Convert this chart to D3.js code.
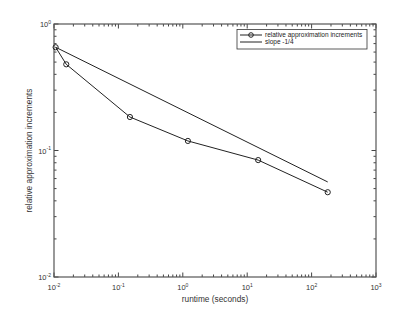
<!DOCTYPE html>
<html><head><meta charset="utf-8">
<script src="https://cdn.jsdelivr.net/npm/d3@7"></script>
<style>body{margin:0;background:#fff}svg{display:block}</style>
</head><body>
<svg id="c" width="415" height="312"></svg>
<script>
const runtime = [0.0106, 0.0155, 0.151, 1.2, 14.8, 178];
const increments = [0.655, 0.48, 0.184, 0.119, 0.084, 0.0468];
const slopeX = [0.0106, 178];
const slopeY = [0.655, 0.0564];
const xTickExps = [-2, -1, 0, 1, 2, 3];
const yTickExps = [-2, -1, 0];
const seriesNames = ["relative approximation increments", "slope -1/4"];

const svg = d3.select("#c");
const L = 54, R = 376, T = 24, B = 277;
const x = d3.scaleLog().domain([1e-2, 1e3]).range([L, R]);
const y = d3.scaleLog().domain([1e-2, 1]).range([B, T]);
const font = "Liberation Sans, Arial, sans-serif";
const axisCol = "#444";

function minors(dom) {
  const out = [];
  for (let e = Math.log10(dom[0]); e < Math.log10(dom[1]); e++)
    for (let k = 2; k <= 9; k++) out.push(k * Math.pow(10, e));
  return out;
}
const g = svg.append("g");
const xMaj = xTickExps.map(e => Math.pow(10, e));
const yMaj = yTickExps.map(e => Math.pow(10, e));
minors(x.domain()).forEach(v => {
  g.append("line").attr("x1", x(v)).attr("x2", x(v)).attr("y1", B).attr("y2", B - 2.5).attr("stroke", axisCol);
  g.append("line").attr("x1", x(v)).attr("x2", x(v)).attr("y1", T).attr("y2", T + 2.5).attr("stroke", axisCol);
});
xMaj.forEach(v => {
  g.append("line").attr("x1", x(v)).attr("x2", x(v)).attr("y1", B).attr("y2", B - 4.5).attr("stroke", axisCol);
  g.append("line").attr("x1", x(v)).attr("x2", x(v)).attr("y1", T).attr("y2", T + 4.5).attr("stroke", axisCol);
});
minors(y.domain()).forEach(v => {
  g.append("line").attr("y1", y(v)).attr("y2", y(v)).attr("x1", L).attr("x2", L + 2.5).attr("stroke", axisCol);
  g.append("line").attr("y1", y(v)).attr("y2", y(v)).attr("x1", R).attr("x2", R - 2.5).attr("stroke", axisCol);
});
yMaj.forEach(v => {
  g.append("line").attr("y1", y(v)).attr("y2", y(v)).attr("x1", L).attr("x2", L + 4.5).attr("stroke", axisCol);
  g.append("line").attr("y1", y(v)).attr("y2", y(v)).attr("x1", R).attr("x2", R - 4.5).attr("stroke", axisCol);
});
svg.append("rect").attr("x", L).attr("y", T).attr("width", R - L).attr("height", B - T)
  .attr("fill", "none").attr("stroke", "#555").attr("stroke-width", 1.2);

xTickExps.forEach(e => {
  const t = svg.append("text").attr("x", x(Math.pow(10, e))).attr("y", B + 13)
    .attr("text-anchor", "middle").attr("font-family", font).attr("font-size", 7.5).attr("fill", "#333");
  t.append("tspan").text("10");
  t.append("tspan").attr("dy", -3.5).attr("font-size", 5).text(String(e));
});
yTickExps.forEach(e => {
  const t = svg.append("text").attr("x", L - 3).attr("y", y(Math.pow(10, e)) + 3)
    .attr("text-anchor", "end").attr("font-family", font).attr("font-size", 7.5).attr("fill", "#333");
  t.append("tspan").text("10");
  t.append("tspan").attr("dy", -3.5).attr("font-size", 5).text(String(e));
});

svg.append("text").attr("x", (L + R) / 2).attr("y", 302).attr("text-anchor", "middle")
  .attr("font-family", font).attr("font-size", 8.3).attr("fill", "#333").text("runtime (seconds)");
svg.append("text").attr("transform", `translate(32,${(T + B) / 2}) rotate(-90)`).attr("text-anchor", "middle")
  .attr("font-family", font).attr("font-size", 8.3).attr("fill", "#333").text("relative approximation increments");

const line = d3.line().x(d => x(d[0])).y(d => y(d[1]));
svg.append("path").attr("d", line(slopeX.map((v, i) => [v, slopeY[i]])))
  .attr("fill", "none").attr("stroke", "#222").attr("stroke-width", 1);
const pts = runtime.map((v, i) => [v, increments[i]]);
svg.append("path").attr("d", line(pts)).attr("fill", "none").attr("stroke", "#222").attr("stroke-width", 1);
svg.selectAll("circle.m").data(pts).enter().append("circle").attr("class", "m")
  .attr("cx", d => x(d[0])).attr("cy", d => y(d[1])).attr("r", 2.6)
  .attr("fill", "none").attr("stroke", "#222").attr("stroke-width", 1);

const lg = svg.append("g");
lg.append("rect").attr("x", 237).attr("y", 29.5).attr("width", 130).attr("height", 19.5)
  .attr("fill", "#fff").attr("stroke", "#333").attr("stroke-width", 0.8);
seriesNames.forEach((n, i) => {
  const yy = 35 + i * 7;
  lg.append("line").attr("x1", 240).attr("x2", 262).attr("y1", yy).attr("y2", yy).attr("stroke", "#222");
  if (i === 0) lg.append("circle").attr("cx", 251).attr("cy", yy).attr("r", 2.3).attr("fill", "none").attr("stroke", "#222");
  lg.append("text").attr("x", 265).attr("y", yy + 2.3).attr("font-family", font).attr("font-size", 6.5)
    .attr("fill", "#222").text(n);
});
</script>
</body></html>
